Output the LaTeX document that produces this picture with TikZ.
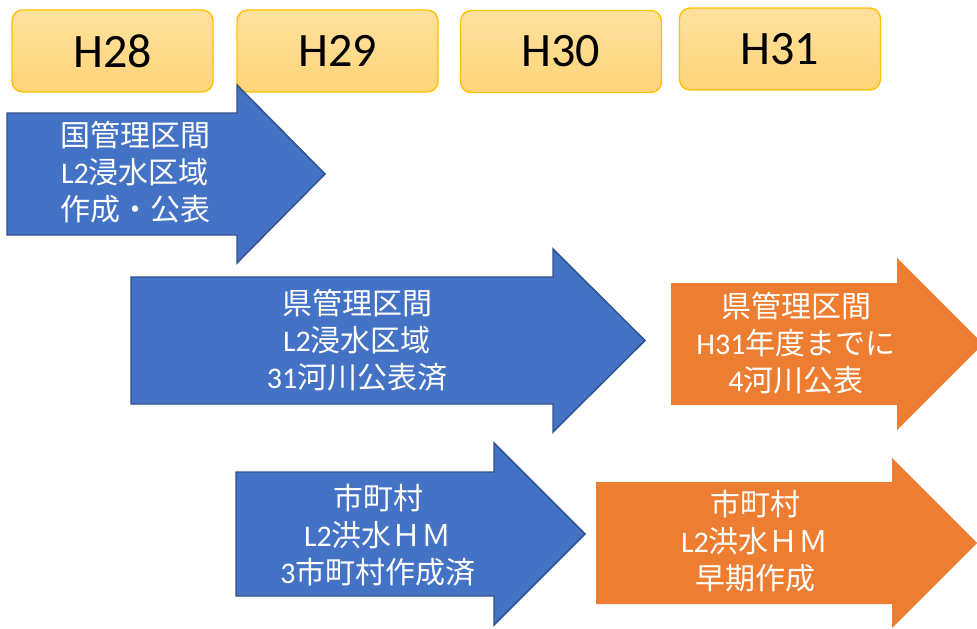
\documentclass[tikz,border=0pt]{standalone}
\usepackage{fontspec}
\setmainfont{Carlito}
\newfontfamily\cjk{Noto Sans CJK JP}
\newfontfamily\lat{Carlito}
\definecolor{boxtop}{HTML}{FFE19E}
\definecolor{boxbot}{HTML}{FFD479}
\definecolor{boxline}{HTML}{FFC000}
\definecolor{blueA}{HTML}{4472C4}
\definecolor{blueL}{HTML}{2F528F}
\definecolor{orangeA}{HTML}{ED7D31}
\begin{document}
\begin{tikzpicture}[x=0.75pt,y=-0.75pt,
  yearbox/.style={draw=boxline, line width=1pt, top color=boxtop, bottom color=boxbot,
    rounded corners=8pt, minimum width=150.75pt, minimum height=61.5pt, inner sep=0pt,
    font=\fontsize{36}{40}\selectfont\lat, text=black},
  bluearrow/.style={fill=blueA, draw=blueL, line width=1.1pt, line join=miter},
  orangearrow/.style={fill=orangeA, draw=none},
  arrowtext/.style={text=white, align=center, inner sep=0pt,
    font=\fontsize{22.5}{27.75}\selectfont\cjk}]
\useasboundingbox (0,0) rectangle (977,628);
% year boxes
\node[yearbox] (h28) at (112.5,51) {H28};
\node[yearbox] (h29) at (337.5,51) {H29};
\node[yearbox] (h30) at (561,51.5) {H30};
\node[yearbox] (h31) at (780,49) {H31};
% arrows
\path[bluearrow] (7,113) -- (237,113) -- (237,85) -- (325,174) -- (237,263) -- (237,235) -- (7,235) -- cycle;
\path[bluearrow] (131,277) -- (553,277) -- (553,249) -- (645,340.5) -- (553,432) -- (553,404) -- (131,404) -- cycle;
\path[orangearrow] (671,283) -- (897,283) -- (897,258) -- (983,344) -- (897,430) -- (897,405) -- (671,405) -- cycle;
\path[bluearrow] (236,472) -- (494,472) -- (494,443) -- (585,534) -- (494,625) -- (494,596) -- (236,596) -- cycle;
\path[orangearrow] (596,482) -- (892,482) -- (892,458) -- (977,543) -- (892,628) -- (892,604) -- (596,604) -- cycle;
% texts
\node[arrowtext] (t1) at (135,172) {国管理区間\\{\lat L2}浸水区域\\作成・公表};
\node[arrowtext] (t2) at (357,340) {県管理区間\\{\lat L2}浸水区域\\{\lat 31}河川公表済};
\node[arrowtext] (t3) at (796,343) {県管理区間\\{\lat H31}年度までに\\{\lat 4}河川公表};
\node[arrowtext] (t4) at (378,535) {市町村\\{\lat L2}洪水ＨＭ\\{\lat 3}市町村作成済};
\node[arrowtext] (t5) at (755,541) {市町村\\{\lat L2}洪水ＨＭ\\早期作成};
\end{tikzpicture}
\end{document}
